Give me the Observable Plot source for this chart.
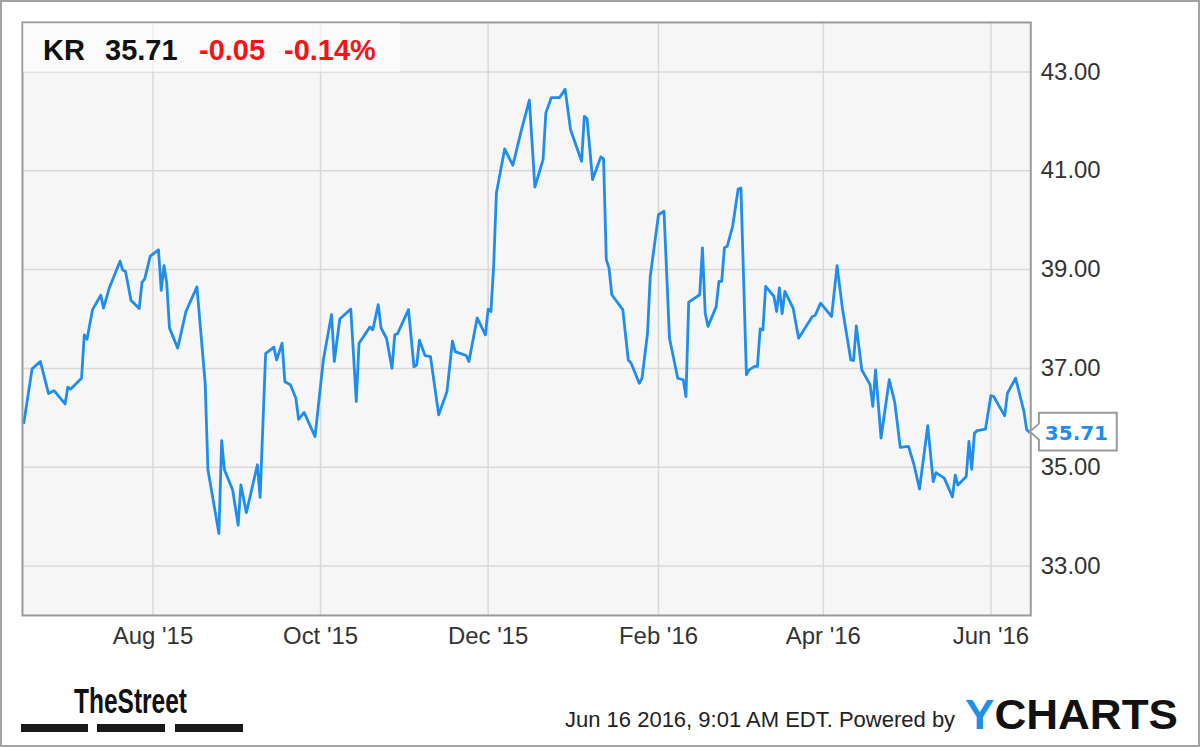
<!DOCTYPE html>
<html><head><meta charset="utf-8">
<script src="https://cdn.jsdelivr.net/npm/d3@7"></script>
<script src="https://cdn.jsdelivr.net/npm/@observablehq/plot@0.6"></script>
<style>
html,body{margin:0;padding:0;background:#fff;}
#wrap{position:relative;width:1200px;height:747px;box-sizing:border-box;border:2px solid #a3a3a3;overflow:hidden;font-family:"Liberation Sans",Arial,sans-serif;}
#chart{position:absolute;left:-2px;top:-2px;}
#overlay{position:absolute;left:-2px;top:-2px;pointer-events:none;}
</style></head><body>
<div id="wrap"><div id="chart"></div><svg id="overlay" width="1200" height="747"></svg></div>
<script>
// ---- data ----
const ticker = "KR";
const lastPrice = "35.71";
const change = "-0.05";
const changePct = "-0.14%";
const footerText = "Jun 16 2016, 9:01 AM EDT. Powered by";

const dates = [
"2015-06-15","2015-06-18","2015-06-21","2015-06-24","2015-06-26","2015-06-30","2015-07-01","2015-07-02",
"2015-07-06","2015-07-07","2015-07-08","2015-07-10","2015-07-13","2015-07-14","2015-07-16","2015-07-20",
"2015-07-21","2015-07-22","2015-07-24","2015-07-27","2015-07-28","2015-07-29","2015-07-31","2015-08-03",
"2015-08-04","2015-08-05","2015-08-06","2015-08-07","2015-08-10","2015-08-13","2015-08-17","2015-08-20",
"2015-08-21","2015-08-25","2015-08-26","2015-08-27","2015-08-30","2015-09-01","2015-09-02","2015-09-04",
"2015-09-08","2015-09-09","2015-09-11","2015-09-14","2015-09-15","2015-09-17","2015-09-18","2015-09-20",
"2015-09-22","2015-09-23","2015-09-25","2015-09-29","2015-10-02","2015-10-05","2015-10-06","2015-10-08",
"2015-10-12","2015-10-14","2015-10-15","2015-10-19","2015-10-20","2015-10-22","2015-10-23","2015-10-25",
"2015-10-27","2015-10-28","2015-10-29","2015-11-02","2015-11-04","2015-11-05","2015-11-06","2015-11-08",
"2015-11-10","2015-11-13","2015-11-16","2015-11-18","2015-11-19","2015-11-23","2015-11-24","2015-11-27",
"2015-11-30","2015-12-01","2015-12-02","2015-12-03","2015-12-04","2015-12-07","2015-12-10","2015-12-13",
"2015-12-16","2015-12-18","2015-12-21","2015-12-22","2015-12-24","2015-12-27","2015-12-29","2015-12-31",
"2016-01-04","2016-01-05","2016-01-06","2016-01-08","2016-01-11","2016-01-12","2016-01-13","2016-01-14",
"2016-01-15","2016-01-19","2016-01-21","2016-01-22","2016-01-25","2016-01-26","2016-01-28","2016-01-29",
"2016-02-01","2016-02-03","2016-02-05","2016-02-08","2016-02-10","2016-02-11","2016-02-12","2016-02-16",
"2016-02-17","2016-02-18","2016-02-19","2016-02-22","2016-02-23","2016-02-24","2016-02-25","2016-02-26",
"2016-02-28","2016-03-01","2016-03-02","2016-03-04","2016-03-05","2016-03-07","2016-03-08","2016-03-09",
"2016-03-10","2016-03-11","2016-03-14","2016-03-15","2016-03-16","2016-03-17","2016-03-18","2016-03-21",
"2016-03-23","2016-03-28","2016-03-29","2016-03-31","2016-04-04","2016-04-06","2016-04-08","2016-04-11",
"2016-04-12","2016-04-13","2016-04-15","2016-04-18","2016-04-19","2016-04-20","2016-04-22","2016-04-25",
"2016-04-27","2016-04-29","2016-05-02","2016-05-04","2016-05-06","2016-05-09","2016-05-11","2016-05-12",
"2016-05-15","2016-05-18","2016-05-19","2016-05-20","2016-05-23","2016-05-24","2016-05-25","2016-05-26",
"2016-05-27","2016-05-30","2016-06-01","2016-06-02","2016-06-06","2016-06-07","2016-06-10","2016-06-13",
"2016-06-14","2016-06-15"
];
const closes = [
35.90,36.99,37.14,36.49,36.55,36.28,36.62,36.58,
36.80,37.68,37.59,38.19,38.48,38.22,38.61,39.17,
38.99,38.96,38.38,38.21,38.74,38.81,39.27,39.40,
38.58,39.08,38.73,37.82,37.41,38.15,38.65,36.70,
34.95,33.66,35.54,34.95,34.54,33.83,34.64,34.08,
35.05,34.39,37.30,37.43,37.17,37.51,36.73,36.67,
36.40,35.97,36.11,35.62,37.17,38.09,37.14,38.00,
38.20,36.33,37.51,37.84,37.78,38.29,37.82,37.61,
37.00,37.68,37.70,38.19,37.03,37.07,37.57,37.26,
37.24,36.06,36.53,37.55,37.34,37.26,37.14,38.02,
37.68,38.20,38.15,39.07,40.55,41.44,41.11,41.80,
42.43,40.67,41.23,42.17,42.48,42.48,42.65,41.83,
41.19,42.10,42.05,40.82,41.28,41.24,39.20,39.03,
38.49,38.19,37.17,37.11,36.70,36.80,37.71,38.86,
40.11,40.18,37.61,36.80,36.77,36.43,38.34,38.49,
39.44,38.12,37.85,38.25,38.76,38.76,39.44,39.47,
39.88,40.63,40.65,36.87,36.97,37.04,37.04,37.80,
37.78,38.66,38.46,38.15,38.63,38.11,38.56,38.22,
37.61,38.05,38.07,38.32,38.05,39.08,38.19,37.17,
37.16,37.86,36.97,36.67,36.23,36.97,35.59,36.77,
36.31,35.40,35.42,35.05,34.56,35.84,34.71,34.89,
34.78,34.40,34.84,34.64,34.81,35.52,34.96,35.69,
35.74,35.77,36.45,36.43,36.04,36.50,36.80,36.13,
35.76,35.71
];
const yTicks = [33, 35, 37, 39, 41, 43];
const yDomain = [32, 44];
const xTickDates = ["2015-08-01","2015-10-01","2015-12-01","2016-02-01","2016-04-01","2016-06-01"];
const xDomainDates = ["2015-06-14T12:00Z","2016-06-15T12:00Z"];

// ---- build ----
const parse = d3.utcParse("%Y-%m-%d");
const data = dates.map((d, i) => ({date: parse(d), close: closes[i]}));
const xTicks = xTickDates.map(parse);
const xDomain = xDomainDates.map(d => d3.isoParse(d));

const lineColor = "#1f8ded";
const gridColor = "#d9d9d9";
const font = "'Liberation Sans', Arial, sans-serif";

const chart = Plot.plot({
  width: 1200, height: 660,
  marginLeft: 22, marginRight: 168, marginTop: 22, marginBottom: 44,
  style: {background: "transparent", fontFamily: font, color: "#333", overflow: "visible"},
  x: {type: "utc", domain: xDomain, label: null},
  y: {domain: yDomain, label: null},
  marks: [
    Plot.frame({fill: "#f6f6f6", stroke: null}),
    Plot.gridY(yTicks, {stroke: gridColor, strokeOpacity: 1, strokeWidth: 1.5}),
    Plot.gridX(xTicks, {stroke: gridColor, strokeOpacity: 1, strokeWidth: 1.5}),
    Plot.lineY(data, {x: "date", y: "close", stroke: lineColor, strokeWidth: 2.8, strokeLinejoin: "round"}),
    Plot.frame({stroke: "#9a9a9a", strokeWidth: 2}),
    Plot.axisY(yTicks, {anchor: "right", tickSize: 0, tickPadding: 10, fontSize: 24, tickFormat: d => d.toFixed(2), label: null}),
    Plot.axisX(xTicks, {anchor: "bottom", tickSize: 0, tickPadding: 12, fontSize: 24, tickFormat: d3.utcFormat("%b '%y"), label: null})
  ]
});
document.getElementById("chart").appendChild(chart);

// last-price tag, positioned through the plot's own scales
const xs = chart.scale("x"), ys = chart.scale("y");
const last = data[data.length - 1];
const px = xs.apply(last.date), py = ys.apply(last.close);
const bx = px + 10;
const tag = d3.select(chart).append("g").attr("text-anchor", "start");
tag.append("path")
  .attr("d", `M${px + 1},${py} L${bx},${py - 8} V${py - 19} H${bx + 78} V${py + 19} H${bx} V${py + 8} Z`)
  .attr("fill", "#fff").attr("stroke", "#9a9a9a").attr("stroke-width", 2).attr("stroke-linejoin", "miter");
tag.append("text")
  .attr("x", bx + 6).attr("y", py + 8).attr("text-anchor", "start")
  .attr("font-family", "'DejaVu Sans', Verdana, sans-serif").attr("font-weight", "bold").attr("font-size", 20)
  .attr("fill", lineColor).text(last.close.toFixed(2));

// header, footer and logos
const ov = d3.select("#overlay");
ov.append("rect").attr("x", 23).attr("y", 23).attr("width", 377).attr("height", 49).attr("fill", "rgba(255,255,255,0.55)");
const head = [[ticker, 43, "#111"], [lastPrice, 105, "#111"], [change, 199, "#f51414"], [changePct, 284, "#f51414"]];
head.forEach(([t, x, c]) => ov.append("text").attr("x", x).attr("y", 60)
  .attr("font-family", font).attr("font-weight", "bold").attr("font-size", 29).attr("fill", c).text(t));

ov.append("text").attr("x", 565).attr("y", 727).attr("font-family", font).attr("font-size", 22)
  .attr("fill", "#222").text(footerText);

const yc = ov.append("text").attr("x", 965).attr("y", 729).attr("font-family", font)
  .attr("font-weight", "bold").attr("font-size", 43).attr("textLength", 213).attr("lengthAdjust", "spacingAndGlyphs");
yc.append("tspan").attr("fill", "#1e90e8").text("Y");
yc.append("tspan").attr("fill", "#111").text("CHARTS");

ov.append("text").attr("x", 74).attr("y", 713)
  .attr("font-family", "'Liberation Sans Narrow', 'Liberation Sans', Arial, sans-serif")
  .attr("font-weight", "bold").attr("font-size", 35).attr("textLength", 113).attr("lengthAdjust", "spacingAndGlyphs")
  .attr("fill", "#111").text("TheStreet");
[[21, 67], [97, 68], [175, 68]].forEach(([x, w]) =>
  ov.append("rect").attr("x", x).attr("y", 724).attr("width", w).attr("height", 8).attr("fill", "#1a1a1a"));
</script>
</body></html>
